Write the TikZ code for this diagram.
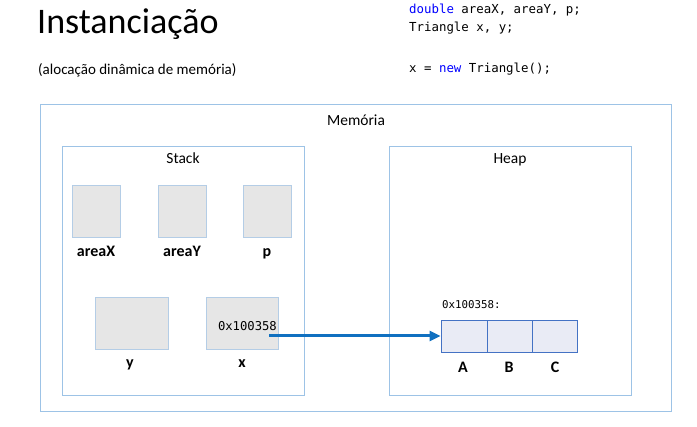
\documentclass[tikz,border=0pt]{standalone}
\usepackage{fontspec}
\setmainfont{Carlito}
\setmonofont{DejaVu Sans Mono}
\usetikzlibrary{arrows.meta}
\definecolor{frame}{HTML}{9DC3E6}
\definecolor{cellfill}{HTML}{E6E6E6}
\definecolor{cellline}{HTML}{B4CDE6}
\definecolor{heapfill}{HTML}{E9EBF5}
\definecolor{heapline}{HTML}{4472C4}
\definecolor{arrowblue}{HTML}{1070C0}
\definecolor{kw}{HTML}{0000FF}
\tikzset{
  region/.style={draw=frame, line width=0.9pt},
  var/.style={draw=cellline, fill=cellfill, line width=0.8pt, inner sep=0pt},
  field/.style={draw=heapline, fill=heapfill, line width=0.8pt, inner sep=0pt},
  caption/.style={font=\fontsize{15.5}{18}\selectfont, anchor=base, inner sep=0pt},
  varname/.style={font=\fontsize{16}{19}\selectfont\bfseries, anchor=base, inner sep=0pt},
  code/.style={font=\fontsize{12.4}{15}\ttfamily, anchor=west, inner sep=0pt},
}
\begin{document}
\begin{tikzpicture}[x=1pt, y=-1pt]
\useasboundingbox (0,0) rectangle (697,427);

% headings
\node[anchor=west, inner sep=0pt, font=\fontsize{36}{42}\selectfont] (title) at (37,24) {Instanciação};
\node[anchor=west, inner sep=0pt, font=\fontsize{15}{18}\selectfont] (subtitle) at (38,70) {(alocação dinâmica de memória)};

% source code
\node[code] (l1) at (409,10) {\textcolor{kw}{double} areaX, areaY, p;};
\node[code] (l2) at (409,28) {Triangle x, y;};
\node[code] (l3) at (409,69) {x = \textcolor{kw}{new} Triangle();};

% memory regions
\draw[region] (40,104) rectangle (671,411);
\node[caption] (mem) at (356,126) {Memória};
\draw[region] (62,146) rectangle (304,395);
\node[caption] (stack) at (183,164) {Stack};
\draw[region] (389,146) rectangle (631,395);
\node[caption] (heap) at (510,164) {Heap};

% stack variables
\node[var, minimum width=48, minimum height=52] (areaX) at (96,211) {};
\node[varname] (lareaX) at (96,257) {areaX};
\node[var, minimum width=48, minimum height=52] (areaY) at (182.5,211) {};
\node[varname] (lareaY) at (182,257) {areaY};
\node[var, minimum width=48, minimum height=52] (p) at (267.5,211) {};
\node[varname] (lp) at (267,257) {p};

\node[var, minimum width=73, minimum height=52] (y) at (131.5,323) {};
\node[varname] (ly) at (130,368) {y};
\node[var, minimum width=72, minimum height=52] (x) at (242,323) {};
\node[varname] (lx) at (242,368) {x};
\node[font=\fontsize{12.2}{14}\ttfamily, anchor=east, inner sep=0pt] (xval) at (277,326) {0x100358};

% heap object
\node[font=\fontsize{10.8}{13}\ttfamily, anchor=west, inner sep=0pt] (addr) at (442,305) {0x100358:};
\node[field, minimum width=46, minimum height=32] (A) at (464,336) {};
\node[field, minimum width=45, minimum height=32] (B) at (509.5,336) {};
\node[field, minimum width=45, minimum height=32] (C) at (554.5,336) {};
\node[varname] (lA) at (463,373) {A};
\node[varname] (lB) at (509,373) {B};
\node[varname] (lC) at (555,373) {C};

% reference from x to the object
\coordinate (xs) at (269,336);
\draw[arrowblue, line width=3pt, -{Triangle[length=11pt, width=10pt]}] (xs) -- (A.west);
\end{tikzpicture}
\end{document}
